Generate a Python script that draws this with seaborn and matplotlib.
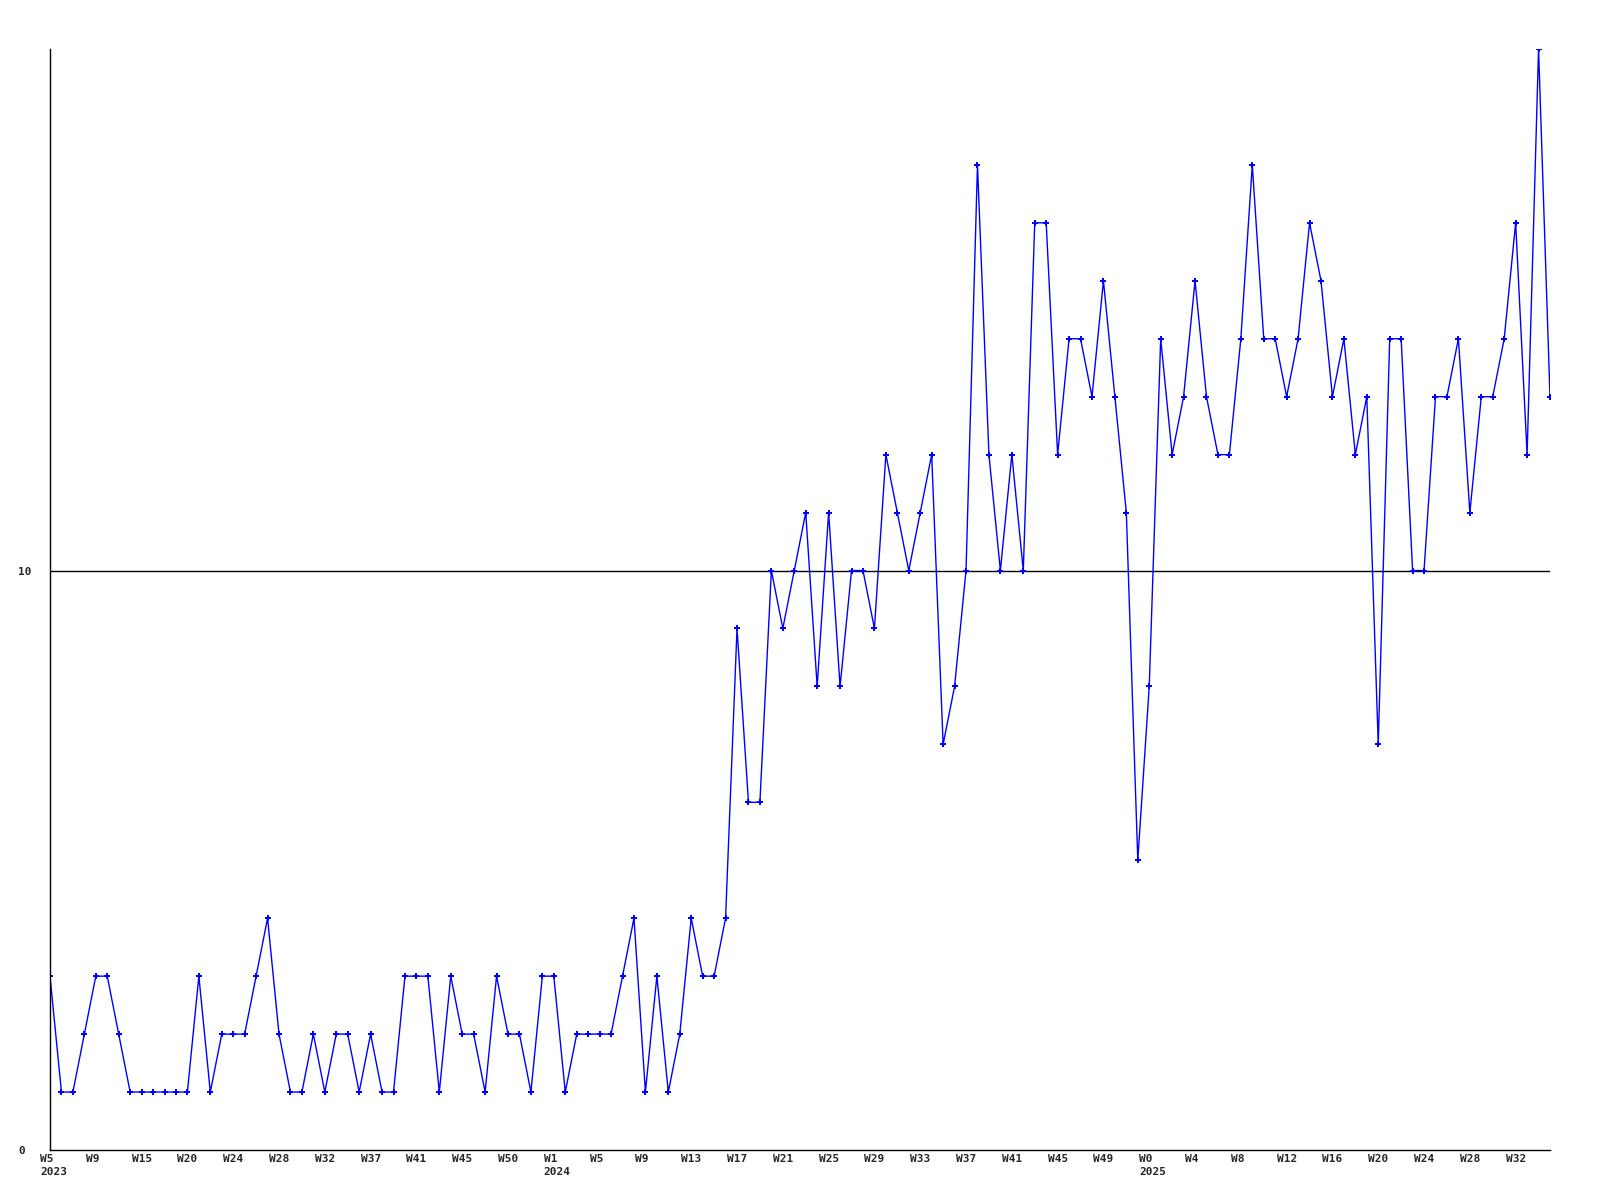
import numpy as np
import pandas as pd
import matplotlib
matplotlib.use("Agg")
import matplotlib.pyplot as plt
import matplotlib.transforms as mtransforms
import seaborn as sns

# weekly counts, W5 2023 .. ~W35 2025
values = [3, 1, 1, 2, 3, 3, 2, 1, 1, 1,
          1, 1, 1, 3, 1, 2, 2, 2, 3, 4,
          2, 1, 1, 2, 1, 2, 2, 1, 2, 1,
          1, 3, 3, 3, 1, 3, 2, 2, 1, 3,
          2, 2, 1, 3, 3, 1, 2, 2, 2, 2,
          3, 4, 1, 3, 1, 2, 4, 3, 3, 4,
          9, 6, 6, 10, 9, 10, 11, 8, 11, 8,
          10, 10, 9, 12, 11, 10, 11, 12, 7, 8,
          10, 17, 12, 10, 12, 10, 16, 16, 12, 14,
          14, 13, 15, 13, 11, 5, 8, 14, 12, 13,
          15, 13, 12, 12, 14, 17, 14, 14, 13, 14,
          16, 15, 13, 14, 12, 13, 7, 14, 14, 10,
          10, 13, 13, 14, 11, 13, 13, 14, 16, 12,
          19, 13]

# one label every 4 points
week_labels = ['W5', 'W9', 'W15', 'W20', 'W24', 'W28', 'W32', 'W37', 'W41',
               'W45', 'W50', 'W1', 'W5', 'W9', 'W13', 'W17', 'W21', 'W25',
               'W29', 'W33', 'W37', 'W41', 'W45', 'W49', 'W0', 'W4', 'W8',
               'W12', 'W16', 'W20', 'W24', 'W28', 'W32']
year_marks = {0: '2023', 11: '2024', 24: '2025'}

y_ticks = [0, 10]
ref_level = 10

df = pd.DataFrame({'idx': np.arange(len(values)), 'count': values})

sns.set_style("white")
plt.rcParams['font.family'] = ['DejaVu Sans Mono', 'DejaVu Sans']

fig = plt.figure(figsize=(16, 12), dpi=100)
ax = fig.add_axes([50 / 1600, 50 / 1200, 1500 / 1600, 1101 / 1200])

sns.lineplot(data=df, x='idx', y='count', ax=ax, color='#0000ff',
             linewidth=1.0, marker='P', markersize=4, markeredgewidth=0)

ax.axhline(ref_level, color='black', linewidth=1.0, zorder=1)

ax.set_xlim(0, len(values) - 1)
ax.set_ylim(0, 19)

tick_pos = np.arange(len(week_labels)) * 4
labels = [w + ('\n' + year_marks[i] if i in year_marks else '')
          for i, w in enumerate(week_labels)]
ax.set_xticks(tick_pos)
ax.set_xticklabels(labels, fontsize=8, fontweight='bold', ha='left',
                   linespacing=1.4)
ax.set_yticks(y_ticks)
ax.set_yticklabels([str(t) for t in y_ticks], fontsize=8, fontweight='bold',
                   ha='left')
ax.tick_params(axis='x', length=0, pad=3)
ax.tick_params(axis='y', length=0, pad=23)

shift = mtransforms.ScaledTranslation(-10 / 100, 0, fig.dpi_scale_trans)
for lab in ax.get_xticklabels():
    lab.set_transform(lab.get_transform() + shift)

ax.set_xlabel('')
ax.set_ylabel('')
for side in ['top', 'right']:
    ax.spines[side].set_visible(False)
for side in ['left', 'bottom']:
    ax.spines[side].set_color('black')
    ax.spines[side].set_linewidth(1.0)

fig.savefig('out.png', dpi=100)
